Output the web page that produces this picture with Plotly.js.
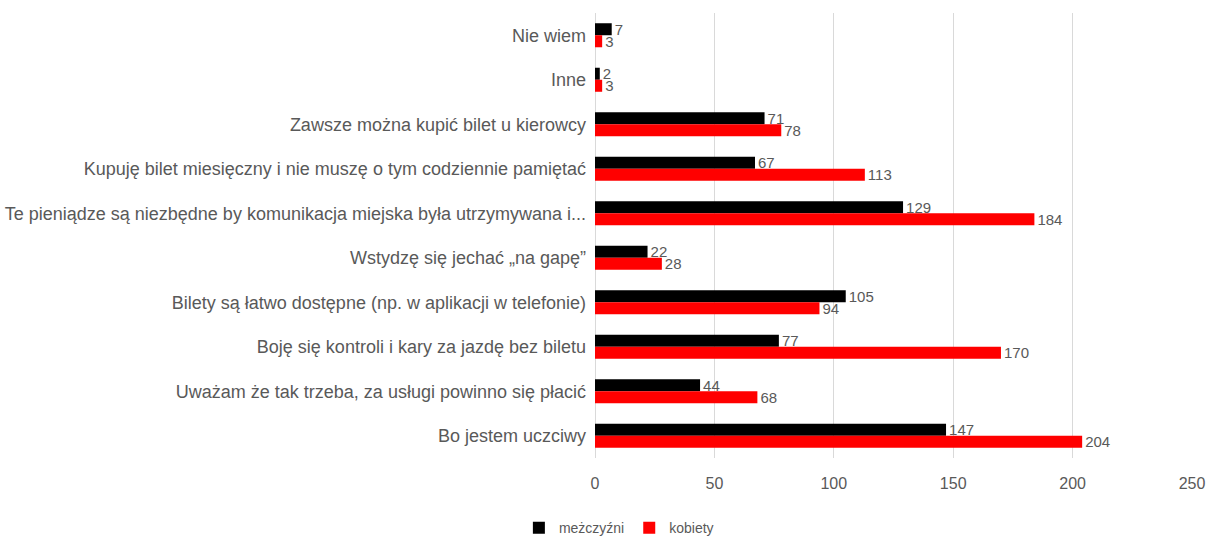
<!DOCTYPE html>
<html><head><meta charset="utf-8">
<script src="https://cdn.plot.ly/plotly-3.0.1.min.js"></script>
<style>html,body{margin:0;padding:0;background:#fff;}#chart{width:1212px;height:539px;}</style>
</head><body><div id="chart"></div>
<script>
const categories = [
  "Nie wiem",
  "Inne",
  "Zawsze można kupić bilet u kierowcy",
  "Kupuję bilet miesięczny i nie muszę o tym codziennie pamiętać",
  "Te pieniądze są niezbędne by komunikacja miejska była utrzymywana i...",
  "Wstydzę się jechać „na gapę”",
  "Bilety są łatwo dostępne (np. w aplikacji w telefonie)",
  "Boję się kontroli i kary za jazdę bez biletu",
  "Uważam że tak trzeba, za usługi powinno się płacić",
  "Bo jestem uczciwy"
];
const mezczyzni = [7, 2, 71, 67, 129, 22, 105, 77, 44, 147];
const kobiety = [3, 3, 78, 113, 184, 28, 94, 170, 68, 204];
const seriesNames = ["meżczyźni", "kobiety"];
const xTicks = [0, 50, 100, 150, 200, 250];

const font = "'Liberation Sans', Arial, sans-serif";
const grey = "#595959";

const traces = [
  {type:"bar", orientation:"h", name:seriesNames[0], y:categories, x:mezczyzni,
   marker:{color:"#000000"}, text:mezczyzni.map(String), textposition:"outside",
   constraintext:"none", cliponaxis:false, textfont:{family:font, size:15, color:grey}},
  {type:"bar", orientation:"h", name:seriesNames[1], y:categories, x:kobiety,
   marker:{color:"#ff0000"}, text:kobiety.map(String), textposition:"outside",
   constraintext:"none", cliponaxis:false, textfont:{family:font, size:15, color:grey}}
];

const layout = {
  width:1212, height:539,
  margin:{l:595, r:20, t:13, b:81, autoexpand:false},
  paper_bgcolor:"#fff", plot_bgcolor:"#fff",
  barmode:"group", bargap:0.46, bargroupgap:0,
  font:{family:font, color:grey},
  xaxis:{range:[0,250], tickvals:xTicks, ticktext:xTicks.map(String),
    showgrid:true, gridcolor:"#d9d9d9", gridwidth:1, zeroline:true, zerolinecolor:"#d9d9d9",
    showline:false, ticks:"", tickfont:{family:font, size:16, color:grey},
    ticklabelstandoff:14, fixedrange:true},
  yaxis:{autorange:"reversed", type:"category", ticks:"", showline:false, showgrid:false,
    tickfont:{family:font, size:18, color:grey}, ticklabelstandoff:8},
  legend:{orientation:"h", x:0.04, xanchor:"center", yref:"container", y:0.02, yanchor:"middle",
    font:{family:font, size:14, color:grey}, itemwidth:30, traceorder:"normal",
    bgcolor:"rgba(0,0,0,0)"},
  showlegend:true
};

Plotly.newPlot("chart", traces, layout, {displayModeBar:false, staticPlot:true});
</script>
</body></html>
